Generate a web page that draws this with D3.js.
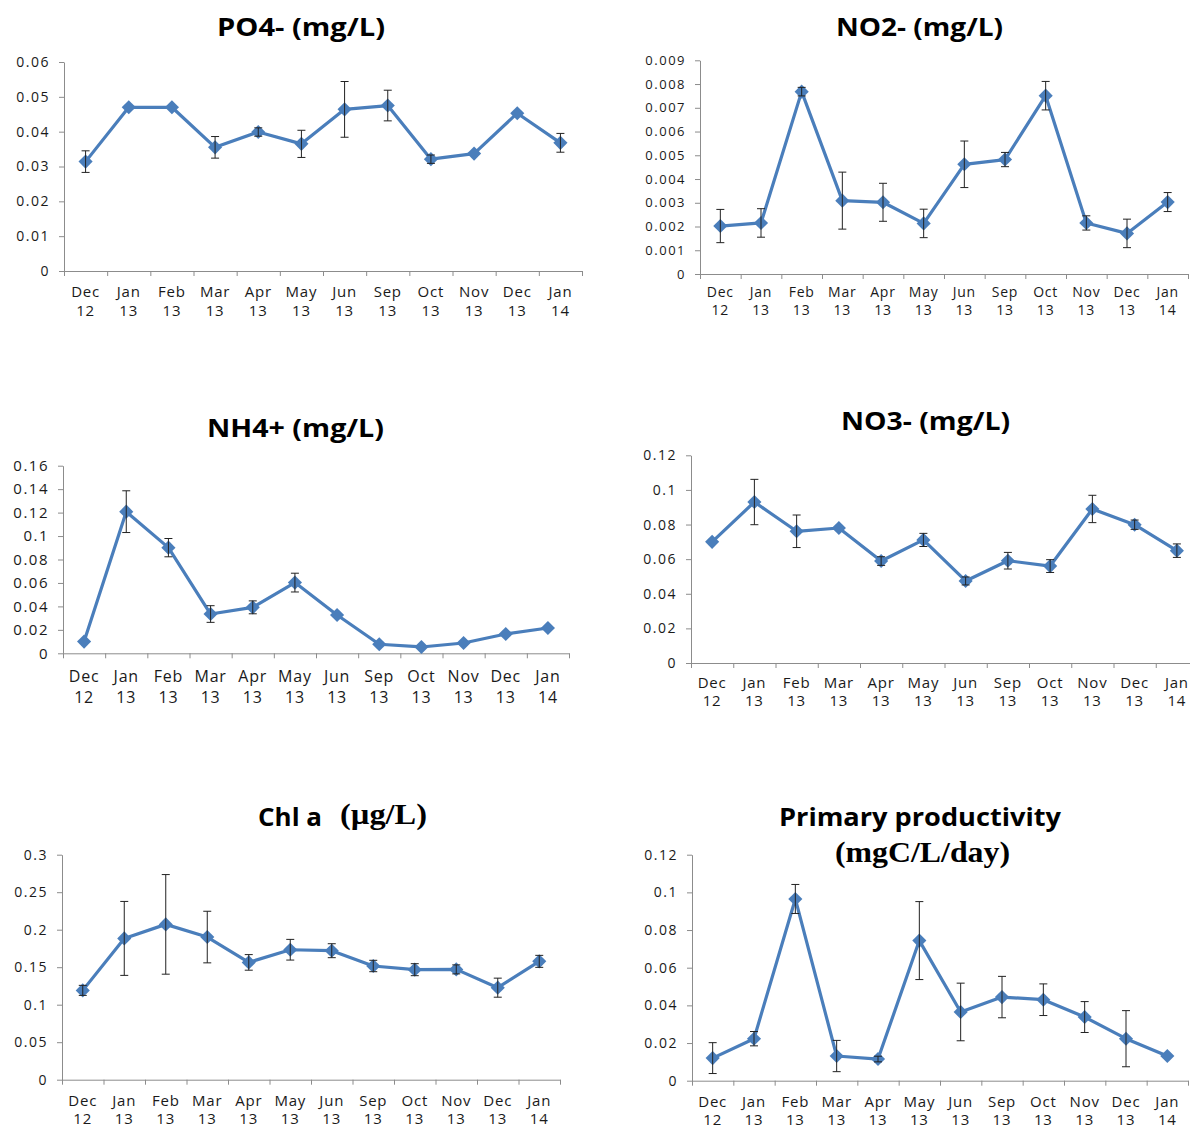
<!DOCTYPE html>
<html>
<head>
<meta charset="utf-8">
<script src="https://cdn.jsdelivr.net/npm/d3@7"></script>
<style>
  body { margin: 0; background: #fff; }
  svg text { fill: #1a1a1a; }
</style>
</head>
<body>
<div id="chart"></div>
<script>
  // sampling months, shared by all six panels
  const months = ["Dec", "Jan", "Feb", "Mar", "Apr", "May", "Jun", "Sep", "Oct", "Nov", "Dec", "Jan"];
  const years = ["12", "13", "13", "13", "13", "13", "13", "13", "13", "13", "13", "14"];

  // mean and standard deviation
  const po4Mean = [0.0314, 0.047, 0.047, 0.0355, 0.0399, 0.0365, 0.0464, 0.0475, 0.0321, 0.0337, 0.0453, 0.0368];
  const po4Sd = [0.0031, 0, 0, 0.0031, 0.0012, 0.0039, 0.0080, 0.0044, 0.0012, 0, 0, 0.0027];
  const po4Ticks = [0, 0.01, 0.02, 0.03, 0.04, 0.05, 0.06];

  const no2Mean = [0.00202, 0.00215, 0.00768, 0.00309, 0.00302, 0.00213, 0.00462, 0.00482, 0.00751, 0.00215, 0.00171, 0.00303];
  const no2Sd = [0.0007, 0.0006, 0.00018, 0.0012, 0.0008, 0.0006, 0.00098, 0.0003, 0.0006, 0.0003, 0.0006, 0.0004];
  const no2Ticks = [0, 0.001, 0.002, 0.003, 0.004, 0.005, 0.006, 0.007, 0.008, 0.009];

  const nh4Mean = [0.010, 0.1208, 0.0901, 0.0335, 0.0392, 0.0603, 0.0327, 0.0077, 0.0054, 0.0088, 0.0165, 0.0216];
  const nh4Sd = [0, 0.0178, 0.0078, 0.0071, 0.0055, 0.0080, 0, 0, 0, 0, 0, 0];
  const nh4Ticks = [0, 0.02, 0.04, 0.06, 0.08, 0.1, 0.12, 0.14, 0.16];

  const no3Mean = [0.070, 0.0930, 0.0761, 0.0780, 0.0589, 0.0711, 0.0474, 0.0591, 0.0560, 0.0890, 0.0799, 0.0649];
  const no3Sd = [0, 0.0131, 0.0094, 0, 0.0025, 0.0038, 0.0023, 0.0048, 0.0037, 0.0079, 0.0027, 0.0039];
  const no3Ticks = [0, 0.02, 0.04, 0.06, 0.08, 0.1, 0.12];

  const chlMean = [0.1191, 0.1884, 0.2071, 0.1902, 0.1564, 0.1733, 0.172, 0.1516, 0.1467, 0.1471, 0.1227, 0.1578];
  const chlSd = [0.0067, 0.0493, 0.0664, 0.0344, 0.0104, 0.0138, 0.0093, 0.0076, 0.008, 0.006, 0.0127, 0.008];
  const chlTicks = [0, 0.05, 0.1, 0.15, 0.2, 0.25, 0.3];

  const ppMean = [0.012, 0.0223, 0.0965, 0.0131, 0.0115, 0.0744, 0.0365, 0.0444, 0.043, 0.0338, 0.0223, 0.0131];
  const ppSd = [0.0082, 0.0038, 0.0077, 0.0083, 0.0015, 0.0207, 0.0153, 0.011, 0.0084, 0.0082, 0.0149, 0];
  const ppTicks = [0, 0.02, 0.04, 0.06, 0.08, 0.1, 0.12];

  const sans = "'Open Sans', 'Liberation Sans', sans-serif";
  const serif = "'Liberation Serif', 'DejaVu Serif', serif";
  const blue = "#4a7ebb";

  // each panel was pasted at a slightly different scale, so label sizes vary a bit
  const panels = [
    { mean: po4Mean, sd: po4Sd, ticks: po4Ticks, box: { l: 64, r: 582, t: 62, b: 271 },
      yFont: 14, xFont: 15, xLab: [26, 45],
      title: [{ text: "PO4- (mg/L)", font: sans, size: 25, x: 217, y: 36, w: 168 }] },
    { mean: no2Mean, sd: no2Sd, ticks: no2Ticks, box: { l: 700, r: 1188, t: 60.3, b: 274 },
      yFont: 13, xFont: 14, xLab: [23, 41],
      title: [{ text: "NO2- (mg/L)", font: sans, size: 25, x: 836, y: 36, w: 167 }] },
    { mean: nh4Mean, sd: nh4Sd, ticks: nh4Ticks, box: { l: 63, r: 569, t: 465.7, b: 653.3 },
      yFont: 15, xFont: 16, xLab: [29, 50],
      title: [{ text: "NH4+ (mg/L)", font: sans, size: 25, x: 207, y: 437, w: 177 }] },
    { mean: no3Mean, sd: no3Sd, ticks: no3Ticks, box: { l: 691, r: 1198, t: 455.3, b: 663 },
      yFont: 14, xFont: 15, xLab: [25, 43],
      title: [{ text: "NO3- (mg/L)", font: sans, size: 25, x: 841, y: 430, w: 169 }] },
    { mean: chlMean, sd: chlSd, ticks: chlTicks, box: { l: 62, r: 560, t: 854.7, b: 1079.7 },
      yFont: 14, xFont: 15, xLab: [26, 44],
      title: [{ text: "Chl a", font: sans, size: 25, x: 258, y: 826, w: 64 },
              { text: "(µg/L)", font: serif, size: 29, x: 340, y: 824, w: 87 }] },
    { mean: ppMean, sd: ppSd, ticks: ppTicks, box: { l: 692, r: 1188, t: 854.7, b: 1080.7 },
      yFont: 14, xFont: 15, xLab: [26, 44],
      title: [{ text: "Primary productivity", font: sans, size: 25, x: 779, y: 826, w: 282 },
              { text: "(mgC/L/day)", font: serif, size: 29, x: 835, y: 862, w: 175 }] }
  ];

  const svg = d3.select("#chart")
    .append("svg")
    .attr("width", 1190)
    .attr("height", 1126);

  panels.forEach(p => {
    const g = svg.append("g");
    const x = d3.scaleBand().domain(d3.range(months.length)).range([p.box.l, p.box.r]);
    const xEdge = d3.scaleLinear().domain([0, months.length]).range([p.box.l, p.box.r]);
    const y = d3.scaleLinear().domain([0, d3.max(p.ticks)]).range([p.box.b, p.box.t]);
    const cx = i => x(i) + x.bandwidth() / 2;

    // titles
    p.title.forEach(t => {
      g.append("text")
        .attr("x", t.x)
        .attr("y", t.y)
        .attr("textLength", t.w)
        .attr("lengthAdjust", "spacingAndGlyphs")
        .style("font-family", t.font)
        .style("font-size", t.size + "px")
        .style("font-weight", "bold")
        .style("fill", "#000")
        .text(t.text);
    });

    // y axis
    const yAxis = g.append("g")
      .attr("transform", `translate(${p.box.l},0)`)
      .call(d3.axisLeft(y).tickValues(p.ticks).tickSize(5).tickSizeOuter(0).tickFormat(d => String(d)));
    yAxis.selectAll("line, path").attr("stroke", "#8c8c8c");
    yAxis.selectAll("text")
      .attr("x", -14)
      .style("font-family", sans)
      .style("font-size", p.yFont + "px")
      .style("letter-spacing", "1.5px")
      .style("fill", "#1a1a1a");

    // x axis, ticks on category boundaries
    const xAxis = g.append("g")
      .attr("transform", `translate(0,${p.box.b})`)
      .call(d3.axisBottom(xEdge).tickValues(d3.range(months.length + 1)).tickSize(5).tickSizeOuter(0).tickFormat(""));
    xAxis.selectAll("line, path").attr("stroke", "#8c8c8c");

    const lab = g.append("g")
      .selectAll("text")
      .data(months)
      .enter()
      .append("text")
      .attr("text-anchor", "middle")
      .style("font-family", sans)
      .style("font-size", p.xFont + "px")
      .style("letter-spacing", "0.8px");
    lab.append("tspan")
      .attr("x", (d, i) => cx(i))
      .attr("y", p.box.b + p.xLab[0])
      .text(d => d);
    lab.append("tspan")
      .attr("x", (d, i) => cx(i))
      .attr("y", p.box.b + p.xLab[1])
      .text((d, i) => years[i]);

    // series line
    g.append("path")
      .datum(p.mean)
      .attr("fill", "none")
      .attr("stroke", blue)
      .attr("stroke-width", 3.2)
      .attr("stroke-linejoin", "round")
      .attr("d", d3.line().x((d, i) => cx(i)).y(d => y(d)));

    // diamond markers
    g.append("g")
      .selectAll("path")
      .data(p.mean)
      .enter()
      .append("path")
      .attr("d", d3.symbol().type(d3.symbolSquare).size(100))
      .attr("transform", (d, i) => `translate(${cx(i)},${y(d)}) rotate(45)`)
      .attr("fill", blue);

    // error bars
    const err = g.append("g")
      .attr("stroke", "#222")
      .attr("stroke-width", 1)
      .selectAll("g")
      .data(p.mean.map((m, i) => ({ m, s: p.sd[i], i })).filter(d => d.s > 0))
      .enter()
      .append("g");
    err.append("line")
      .attr("x1", d => cx(d.i)).attr("x2", d => cx(d.i))
      .attr("y1", d => y(d.m + d.s)).attr("y2", d => y(d.m - d.s));
    err.append("line")
      .attr("x1", d => cx(d.i) - 4).attr("x2", d => cx(d.i) + 4)
      .attr("y1", d => y(d.m + d.s)).attr("y2", d => y(d.m + d.s));
    err.append("line")
      .attr("x1", d => cx(d.i) - 4).attr("x2", d => cx(d.i) + 4)
      .attr("y1", d => y(d.m - d.s)).attr("y2", d => y(d.m - d.s));
  });
</script>
</body>
</html>
